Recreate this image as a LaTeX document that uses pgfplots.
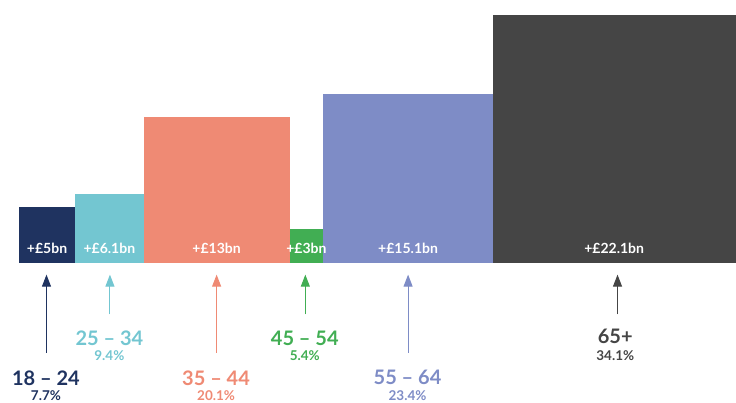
\documentclass[border=0pt]{standalone}
\usepackage{pgfplots}
\pgfplotsset{compat=1.18}
\usepackage{fontspec}
\setmainfont{Lato}
\usetikzlibrary{arrows.meta}
\definecolor{cA}{HTML}{1F3360}
\definecolor{cB}{HTML}{73C6D1}
\definecolor{cC}{HTML}{EF8A74}
\definecolor{cD}{HTML}{41AE53}
\definecolor{cE}{HTML}{7E8CC6}
\definecolor{cF}{HTML}{454545}
\begin{document}
\begin{tikzpicture}
\begin{axis}[
  scale only axis, width=736pt, height=403pt,
  xmin=-1.69, xmax=63.85, ymin=-12.5, ymax=23.45,
  hide axis,
]
\path (rel axis cs:0,0) rectangle (rel axis cs:1,1);
% bars: width and height both equal to the amount (GBP bn)
\addplot[fill=cA, draw=none] coordinates {(0,0) (0,5) (5,5) (5,0)} -- cycle;
\addplot[fill=cB, draw=none] coordinates {(5,0) (5,6.1) (11.1,6.1) (11.1,0)} -- cycle;
\addplot[fill=cC, draw=none] coordinates {(11.1,0) (11.1,13) (24.1,13) (24.1,0)} -- cycle;
\addplot[fill=cD, draw=none] coordinates {(24.1,0) (24.1,3) (27.1,3) (27.1,0)} -- cycle;
\addplot[fill=cE, draw=none] coordinates {(27.1,0) (27.1,15.1) (42.2,15.1) (42.2,0)} -- cycle;
\addplot[fill=cF, draw=none] coordinates {(42.2,0) (42.2,22.1) (64.3,22.1) (64.3,0)} -- cycle;
% bar value labels
\tikzset{val/.style={font=\bfseries\fontsize{14}{16}\selectfont, text=white, inner sep=0pt}}
\node[val] at (axis cs:2.5,1.3) {+£5bn};
\node[val] at (axis cs:8.05,1.3) {+£6.1bn};
\node[val] at (axis cs:17.6,1.3) {+£13bn};
\node[val] at (axis cs:25.6,1.3) {+£3bn};
\node[val] at (axis cs:34.65,1.3) {+£15.1bn};
\node[val] at (axis cs:53.0,1.3) {+£22.1bn};
% arrows
\tikzset{arr/.style={line width=1pt, -{Triangle[length=12pt,width=9pt]}}}
\draw[arr, cA] (axis cs:2.45,-8.0) -- (axis cs:2.45,-1.05);
\draw[arr, cB] (axis cs:8.1,-4.6) -- (axis cs:8.1,-1.05);
\draw[arr, cC] (axis cs:17.6,-8.0) -- (axis cs:17.6,-1.05);
\draw[arr, cD] (axis cs:25.5,-4.6) -- (axis cs:25.5,-1.05);
\draw[arr, cE] (axis cs:34.65,-8.0) -- (axis cs:34.65,-1.05);
\draw[arr, cF] (axis cs:53.3,-4.6) -- (axis cs:53.3,-1.05);
% group labels
\tikzset{grp/.style={font=\bfseries\fontsize{20}{22}\selectfont, inner sep=0pt},
         pct/.style={font=\bfseries\fontsize{13.5}{15}\selectfont, inner sep=0pt}}
\node[grp, text=cA] at (axis cs:2.4,-10.25) {18 – 24};
\node[pct, text=cA] at (axis cs:2.4,-11.85) {7.7\%};
\node[grp, text=cB] at (axis cs:8.05,-6.7) {25 – 34};
\node[pct, text=cB] at (axis cs:8.05,-8.3) {9.4\%};
\node[grp, text=cC] at (axis cs:17.55,-10.25) {35 – 44};
\node[pct, text=cC] at (axis cs:17.55,-11.85) {20.1\%};
\node[grp, text=cD] at (axis cs:25.45,-6.7) {45 – 54};
\node[pct, text=cD] at (axis cs:25.45,-8.3) {5.4\%};
\node[grp, text=cE] at (axis cs:34.6,-10.2) {55 – 64};
\node[pct, text=cE] at (axis cs:34.6,-11.85) {23.4\%};
\node[grp, text=cF] at (axis cs:53.1,-6.55) {65+};
\node[pct, text=cF] at (axis cs:53.1,-8.3) {34.1\%};
\end{axis}
\end{tikzpicture}
\end{document}
